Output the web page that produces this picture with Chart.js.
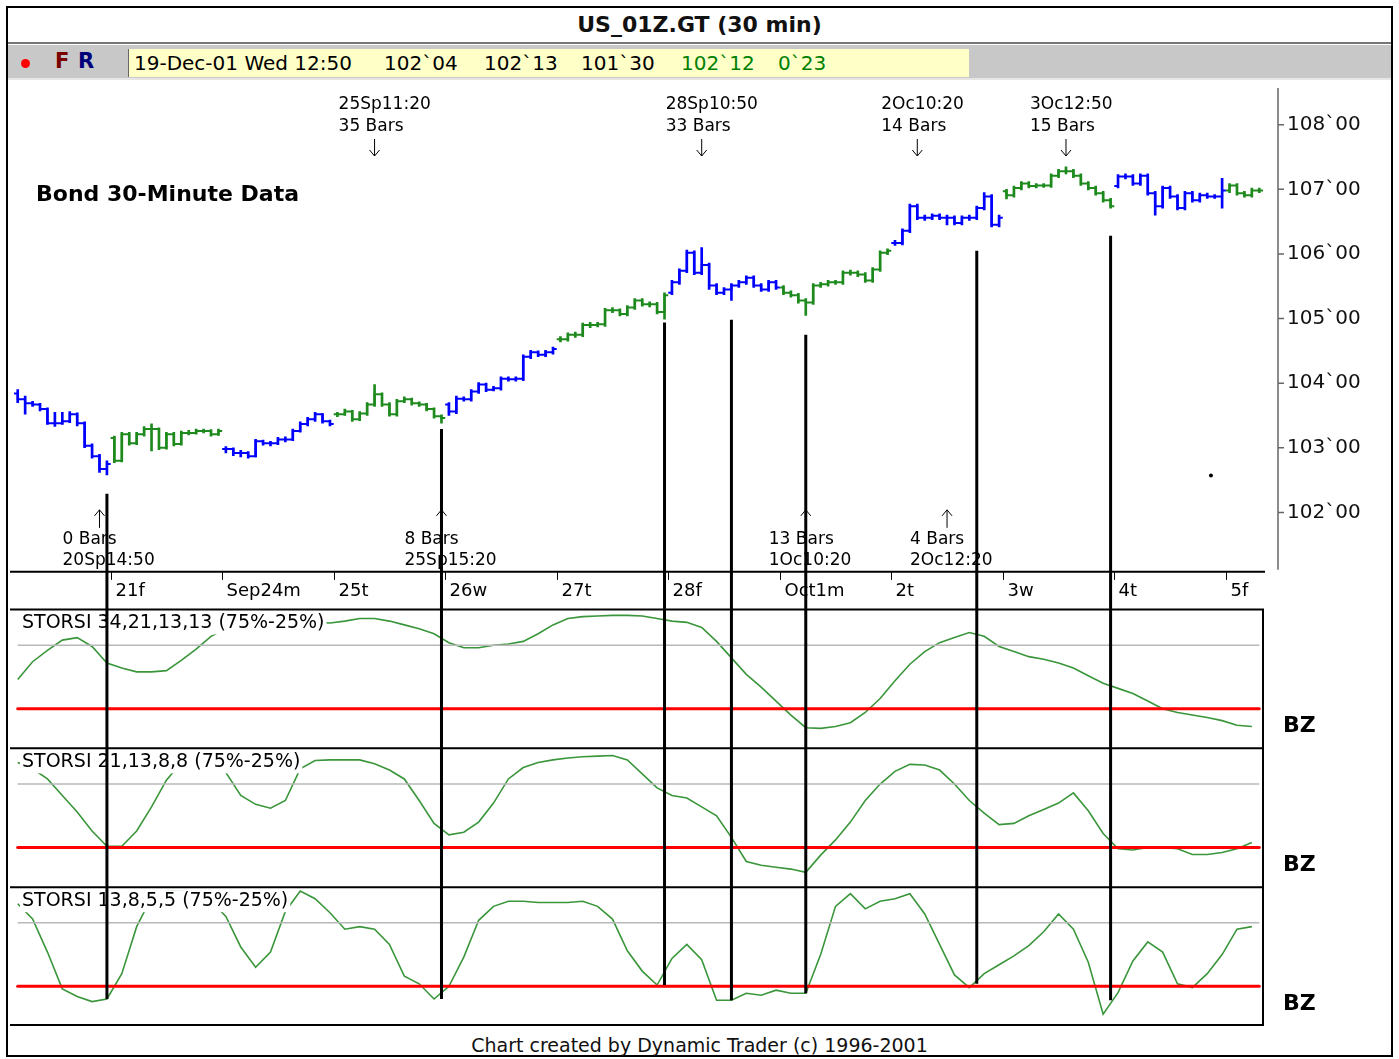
<!DOCTYPE html>
<html>
<head>
<meta charset="utf-8">
<title>US_01Z.GT (30 min)</title>
<script src="https://cdn.jsdelivr.net/npm/chart.js@4.4.1/dist/chart.umd.min.js"></script>
<style>
    body { margin: 0; background: #fff; font-family: "DejaVu Sans", sans-serif; }
    #frame { position: absolute; left: 6px; top: 6px; width: 1383px; height: 1047px; border: 2px solid #000; }
    #title { position: absolute; left: 8px; top: 8px; width: 1383px; height: 34px; line-height: 34px; text-align: center; font-weight: bold; font-size: 22px; color: #111; }
    #sep { position: absolute; left: 8px; top: 42px; width: 1383px; height: 2px; background: #777; }
    #bar { position: absolute; left: 8px; top: 45px; width: 1383px; height: 33px; background: #c8c8c8; border-bottom: 2px solid #e6e6e6; }
    #dot { position: absolute; left: 13px; top: 14px; width: 9px; height: 9px; border-radius: 50%; background: #f00; }
    .fr { position: absolute; top: 4px; font-weight: bold; font-size: 21px; }
    #quote { position: absolute; left: 120px; top: 4px; width: 840px; height: 28px; background: #ffffc8; border-left: 1px solid #666; font-size: 20px; line-height: 28px; }
    #quote span { position: absolute; top: 0; white-space: pre; }
    #chart { position: absolute; left: 10px; top: 80px; }
    #footer { position: absolute; left: 8px; top: 1033px; width: 1383px; height: 24px; line-height: 24px; text-align: center; font-size: 19px; color: #111; }
</style>
</head>
<body>
<div id="frame"></div>
<div id="title">US_01Z.GT (30 min)</div>
<div id="sep"></div>
<div id="bar">
    <div id="dot"></div>
    <span class="fr" style="left:47px;color:#7a0000">F</span>
    <span class="fr" style="left:70px;color:#00007a">R</span>
    <div id="quote">
        <span style="left:5px">19-Dec-01 Wed 12:50</span>
        <span style="left:255px">102`04</span>
        <span style="left:355px">102`13</span>
        <span style="left:452px">101`30</span>
        <span style="left:552px;color:#008000">102`12</span>
        <span style="left:649px;color:#008000">0`23</span>
    </div>
</div>
<canvas id="chart" width="1383" height="950"></canvas>
<div id="footer">Chart created by Dynamic Trader (c) 1996-2001</div>

<script>
// sesiones (30 min) y etiquetas del eje de fechas
const dayLabels = ['', '21f', 'Sep24m', '25t', '26w', '27t', '28f', 'Oct1m', '2t', '3w', '4t', '5f'];
const dayBarCounts = [13, 15, 15, 15, 15, 15, 15, 15, 15, 15, 15, 5];
const dayOpens = [103.84, 103.15, 102.98, 103.52, 103.67, 104.68, 105.40, 105.48, 106.17, 106.97, 107.05, 106.98];

const closes = [
    103.75, 103.69, 103.67, 103.60, 103.38, 103.38, 103.41, 103.52, 103.38, 103.03, 102.87, 102.67, 102.75,
    102.80, 103.21, 103.07, 103.21, 103.29, 103.29, 103.00, 103.21, 103.06, 103.23, 103.23, 103.26, 103.26, 103.21, 103.26,
    102.98, 102.92, 102.92, 102.87, 103.10, 103.07, 103.07, 103.13, 103.13, 103.26, 103.37, 103.44, 103.52, 103.41, 103.37,
    103.52, 103.56, 103.44, 103.53, 103.67, 103.83, 103.67, 103.52, 103.72, 103.75, 103.69, 103.67, 103.60, 103.49, 103.46,
    103.56, 103.76, 103.75, 103.87, 103.98, 103.90, 103.92, 104.07, 104.06, 104.07, 104.41, 104.48, 104.44, 104.48, 104.53,
    104.68, 104.75, 104.75, 104.90, 104.90, 104.91, 105.13, 105.13, 105.07, 105.17, 105.28, 105.22, 105.22, 105.10, 105.36,
    105.56, 105.74, 106.02, 105.71, 105.83, 105.51, 105.40, 105.45, 105.51, 105.56, 105.63, 105.51, 105.45, 105.56, 105.48,
    105.40, 105.36, 105.28, 105.25, 105.51, 105.53, 105.56, 105.56, 105.71, 105.71, 105.68, 105.59, 105.76, 106.02, 106.05,
    106.17, 106.36, 106.74, 106.56, 106.56, 106.59, 106.56, 106.56, 106.48, 106.56, 106.56, 106.71, 106.89, 106.45, 106.56,
    106.91, 107.02, 107.09, 107.05, 107.06, 107.06, 107.21, 107.28, 107.28, 107.21, 107.09, 107.02, 106.94, 106.83, 106.74,
    107.20, 107.20, 107.09, 107.21, 106.94, 106.74, 107.02, 106.89, 106.71, 106.94, 106.83, 106.91, 106.89, 106.89, 106.98,
    107.06, 106.94, 106.91, 106.98, 106.98
];
const highs = [
    103.90, 103.80, 103.72, 103.69, 103.62, 103.55, 103.55, 103.56, 103.54, 103.40, 103.06, 102.90, 102.80,
    103.18, 103.24, 103.24, 103.24, 103.33, 103.37, 103.31, 103.24, 103.24, 103.26, 103.27, 103.29, 103.29, 103.28, 103.29,
    103.02, 103.00, 102.96, 102.94, 103.13, 103.12, 103.10, 103.16, 103.17, 103.29, 103.40, 103.47, 103.55, 103.53, 103.43,
    103.55, 103.60, 103.58, 103.56, 103.70, 103.98, 103.85, 103.70, 103.75, 103.79, 103.77, 103.71, 103.69, 103.62, 103.51,
    103.70, 103.80, 103.79, 103.90, 104.01, 104.00, 103.95, 104.10, 104.10, 104.10, 104.44, 104.51, 104.50, 104.51, 104.56,
    104.72, 104.78, 104.79, 104.93, 104.94, 104.94, 105.16, 105.17, 105.15, 105.20, 105.31, 105.31, 105.26, 105.25, 105.40,
    105.59, 105.77, 106.06, 106.05, 106.10, 105.86, 105.54, 105.48, 105.54, 105.59, 105.66, 105.66, 105.54, 105.59, 105.59,
    105.51, 105.43, 105.39, 105.31, 105.54, 105.56, 105.59, 105.59, 105.74, 105.75, 105.74, 105.71, 105.79, 106.05, 106.08,
    106.21, 106.39, 106.77, 106.77, 106.60, 106.62, 106.62, 106.60, 106.59, 106.59, 106.60, 106.74, 106.95, 106.92, 106.60,
    107.00, 107.05, 107.12, 107.12, 107.09, 107.09, 107.24, 107.31, 107.35, 107.31, 107.24, 107.12, 107.05, 106.97, 106.86,
    107.23, 107.24, 107.23, 107.24, 107.24, 106.97, 107.05, 107.05, 106.92, 106.97, 106.97, 106.94, 106.94, 106.92, 107.17,
    107.09, 107.09, 106.97, 107.02, 107.02
];
const lows = [
    103.70, 103.52, 103.64, 103.57, 103.36, 103.33, 103.36, 103.39, 103.34, 103.00, 102.84, 102.62, 102.58,
    102.77, 102.78, 103.04, 103.05, 103.18, 102.95, 102.97, 102.98, 103.03, 103.04, 103.20, 103.21, 103.23, 103.18, 103.19,
    102.92, 102.88, 102.86, 102.84, 102.86, 103.04, 103.03, 103.05, 103.09, 103.11, 103.24, 103.34, 103.41, 103.38, 103.34,
    103.48, 103.50, 103.41, 103.42, 103.50, 103.64, 103.64, 103.49, 103.49, 103.70, 103.66, 103.64, 103.57, 103.46, 103.38,
    103.50, 103.53, 103.72, 103.72, 103.84, 103.87, 103.88, 103.89, 104.03, 104.03, 104.04, 104.38, 104.41, 104.41, 104.45,
    104.64, 104.65, 104.71, 104.72, 104.86, 104.87, 104.88, 105.09, 105.04, 105.04, 105.14, 105.19, 105.18, 105.07, 104.99,
    105.37, 105.53, 105.71, 105.68, 105.68, 105.45, 105.37, 105.37, 105.28, 105.48, 105.53, 105.48, 105.42, 105.42, 105.45,
    105.37, 105.33, 105.24, 105.05, 105.22, 105.48, 105.50, 105.53, 105.53, 105.67, 105.65, 105.56, 105.56, 105.73, 105.99,
    106.13, 106.14, 106.33, 106.53, 106.52, 106.53, 106.53, 106.45, 106.45, 106.45, 106.52, 106.53, 106.68, 106.42, 106.42,
    106.85, 106.88, 106.99, 107.02, 107.02, 107.03, 107.03, 107.18, 107.24, 107.18, 107.06, 106.99, 106.91, 106.80, 106.71,
    107.02, 107.16, 107.06, 107.06, 106.91, 106.60, 106.71, 106.86, 106.68, 106.68, 106.80, 106.80, 106.86, 106.86, 106.71,
    106.95, 106.91, 106.88, 106.88, 106.95
];
const priceTicks = [102, 103, 104, 105, 106, 107, 108];
const dotBars = [160.5];
const dotPrices = [102.57];

// osciladores STORSI, un valor cada 2 barras
const oscStep = 2;
const oscNames = ['STORSI 34,21,13,13 (75%-25%)', 'STORSI 21,13,8,8 (75%-25%)', 'STORSI 13,8,5,5 (75%-25%)'];
const osc1 = [
    48, 62, 71, 79, 81, 74, 61, 57, 54, 54, 55, 63, 72, 82,
    88, 92, 94, 95, 95, 94, 93, 92.5, 94, 96, 96, 94, 91, 88,
    84, 77, 73, 73, 75, 76, 78, 84, 91, 96, 97.5, 98, 98.5, 98.5,
    98, 96, 94, 93, 89, 78, 65, 52, 42, 31, 20, 10, 9.5, 11,
    14, 22, 33, 47, 60, 70, 77, 81, 85, 82, 74, 70, 66, 64,
    61, 57, 51, 45, 41, 37, 31, 25, 22, 20, 18, 15.6, 12, 11
];
const osc2 = [
    92, 87, 79, 66, 53, 38, 26, 26, 38, 57, 78, 92, 95, 92,
    84, 66, 59, 56, 62, 87, 93.5, 94, 94, 94, 91, 86, 79, 62,
    44, 35, 37, 45, 60, 79, 88, 92, 94, 95.5, 96.5, 97, 97.5, 94,
    83, 72, 66, 64, 57, 50, 33, 14, 11, 9.5, 8, 5.5, 19, 31,
    45, 62, 75, 85, 90.5, 90, 86, 75, 62, 52, 43, 44, 50, 55,
    60, 68, 54, 36, 24, 23, 25, 25, 24, 19.5, 19.5, 21, 24, 29
];
const osc3 = [
    90, 78, 52, 23, 17, 13, 15, 35, 72, 95, 100, 100, 98, 92,
    80, 56, 40, 52, 84, 100, 94, 83, 70, 72, 70, 58, 33, 27,
    15, 25, 48, 77, 88, 92, 92, 91, 91, 91, 92, 88, 78, 53,
    37, 26, 47, 58, 46, 14, 14, 19.5, 18, 22, 19.5, 19.5, 50, 88,
    98, 86, 92, 94, 98, 82, 58, 34, 24, 35, 42, 49, 57, 68,
    82, 70, 44, 3, 20, 45, 60, 52, 27, 24, 35, 50, 70, 72
];
const upperBand = 75;
const lowerBand = 25;

// lineas de ciclo: barra, precio de inicio, valor final en el oscilador inferior
const cycleBars = [12, 57, 87, 96, 106, 129, 147];
const cycleTops = [102.29, 103.29, 104.94, 104.98, 104.75, 106.05, 106.28];
const cycleBottoms = [15, 15, 26, 14, 19.5, 27, 14];

// anotaciones de maximos y minimos
const highNoteBars = [48, 92, 121, 141];
const highNoteTimes = ['25Sp11:20', '28Sp10:50', '2Oc10:20', '3Oc12:50'];
const highNoteCounts = ['35 Bars', '33 Bars', '14 Bars', '15 Bars'];
const lowNoteBars = [11, 57, 106, 125];
const lowNoteCounts = ['0 Bars', '8 Bars', '13 Bars', '4 Bars'];
const lowNoteTimes = ['20Sp14:50', '25Sp15:20', '1Oc10:20', '2Oc12:20'];

Chart.defaults.font.family = '"DejaVu Sans", sans-serif';
Chart.defaults.color = '#000';

const blue = '#0000ff';
const green = '#1e8a1e';
const oscGreen = '#3a963a';

const dayStarts = [];
const barDay = [];
let count = 0;
dayBarCounts.forEach(function(c, d) {
    dayStarts.push(count);
    for (let j = 0; j < c; j++) barDay.push(d);
    count += c;
});
const dayColor = d => (d % 2 === 0 ? blue : green);

const datasets = [];

// una linea escalonada por sesion (open -> closes -> tick de cierre)
dayBarCounts.forEach(function(c, d) {
    const s = dayStarts[d];
    const e = s + c - 1;
    const pts = [{ x: s - 0.5, y: dayOpens[d] }];
    for (let i = s; i <= e; i++) pts.push({ x: i, y: closes[i] });
    pts.push({ x: e + 0.5, y: closes[e] });
    datasets.push({
        type: 'line', yAxisID: 'yP', data: pts, stepped: 'before',
        borderColor: dayColor(d), borderWidth: 2, pointRadius: 0
    });
});

// rango maximo-minimo de cada barra
datasets.push({
    type: 'bar', yAxisID: 'yP',
    data: closes.map((c, i) => ({ x: i, y: [lows[i], highs[i]] })),
    backgroundColor: barDay.map(dayColor),
    barThickness: 2, grouped: false
});

datasets.push({
    type: 'line', yAxisID: 'yP',
    data: dotBars.map((b, i) => ({ x: b, y: dotPrices[i] })),
    showLine: false, pointRadius: 2, pointBackgroundColor: '#000', pointBorderWidth: 0
});

const oscSeries = [osc1, osc2, osc3];
const oscAxisIds = ['yO1', 'yO2', 'yO3'];
oscSeries.forEach(function(vals, k) {
    const id = oscAxisIds[k];
    datasets.push({
        type: 'line', yAxisID: id,
        data: [{ x: 0, y: upperBand }, { x: closes.length - 1, y: upperBand }],
        borderColor: '#b8b8b8', borderWidth: 1.5, pointRadius: 0
    });
    datasets.push({
        type: 'line', yAxisID: id,
        data: [{ x: 0, y: lowerBand }, { x: closes.length - 1, y: lowerBand }],
        borderColor: '#ff0000', borderWidth: 3, borderCapStyle: 'round', pointRadius: 0
    });
    datasets.push({
        type: 'line', yAxisID: id,
        data: vals.map((v, j) => ({ x: j * oscStep, y: v })),
        borderColor: oscGreen, borderWidth: 1.6, pointRadius: 0
    });
});

function noPadding(scale) {
    scale.paddingTop = 0;
    scale.paddingBottom = 0;
}

function panelAxis(weight, stackWeight, min, max) {
    return {
        type: 'linear', position: 'right', stack: 'panels', weight: weight, stackWeight: stackWeight,
        min: min, max: max, beginAtZero: false,
        ticks: { display: false },
        grid: { display: false, drawTicks: false },
        border: { display: false },
        afterFit: noPadding
    };
}

function drawArrow(ctx, x, yHead, yTail) {
    const dir = yTail > yHead ? 1 : -1;
    ctx.beginPath();
    ctx.moveTo(x, yTail);
    ctx.lineTo(x, yHead);
    ctx.moveTo(x - 5, yHead + dir * 6);
    ctx.lineTo(x, yHead);
    ctx.lineTo(x + 5, yHead + dir * 6);
    ctx.stroke();
}

const panelDecor = {
    id: 'panelDecor',
    afterDatasetsDraw(chart) {
        const { ctx, chartArea, scales } = chart;
        const xs = scales.x, yP = scales.yP, yD = scales.yD;
        const oscAxes = [scales.yO1, scales.yO2, scales.yO3];
        const left = chartArea.left, right = chartArea.right;
        ctx.save();

        // marcos de los paneles (desde el borde del lienzo)
        ctx.strokeStyle = '#000';
        ctx.lineWidth = 2;
        ctx.beginPath();
        ctx.moveTo(0, yP.bottom); ctx.lineTo(right + 2, yP.bottom);
        oscAxes.forEach(function(s) { ctx.moveTo(0, s.top); ctx.lineTo(right + 1, s.top); });
        ctx.moveTo(0, oscAxes[2].bottom - 1); ctx.lineTo(right + 1, oscAxes[2].bottom - 1);
        ctx.moveTo(right, yD.bottom); ctx.lineTo(right, oscAxes[2].bottom);
        ctx.stroke();

        // eje de precios
        const axisX = right + 15;
        ctx.strokeStyle = '#666';
        ctx.lineWidth = 1.5;
        ctx.beginPath();
        ctx.moveTo(axisX, yP.top + 4); ctx.lineTo(axisX, yP.bottom - 2);
        priceTicks.forEach(function(v) {
            const y = yP.getPixelForValue(v);
            ctx.moveTo(axisX, y); ctx.lineTo(axisX + 6, y);
        });
        ctx.stroke();

        // eje de fechas
        ctx.strokeStyle = '#000';
        ctx.lineWidth = 1;
        ctx.fillStyle = '#000';
        ctx.font = '18px "DejaVu Sans"';
        ctx.textBaseline = 'middle';
        ctx.textAlign = 'left';
        dayStarts.forEach(function(s, d) {
            if (!dayLabels[d]) return;
            const x = Math.round(xs.getPixelForValue(s - 0.5)) + 0.5;
            ctx.beginPath();
            ctx.moveTo(x, yD.top); ctx.lineTo(x, yD.top + 8);
            ctx.stroke();
            ctx.fillText(dayLabels[d], x + 4, yD.top + 19);
        });

        // titulo del grafico de precios
        ctx.font = 'bold 22px "DejaVu Sans"';
        ctx.fillText('Bond 30-Minute Data', left + 22, yP.top + 111);

        // anotaciones
        ctx.font = '17px "DejaVu Sans"';
        ctx.lineWidth = 1;
        highNoteBars.forEach(function(b, k) {
            const x = xs.getPixelForValue(b);
            ctx.fillText(highNoteTimes[k], x - 36, yP.top + 21);
            ctx.fillText(highNoteCounts[k], x - 36, yP.top + 43);
            drawArrow(ctx, x, yP.top + 72, yP.top + 55);
        });
        lowNoteBars.forEach(function(b, k) {
            const x = xs.getPixelForValue(b);
            ctx.fillText(lowNoteCounts[k], x - 37, yP.bottom - 32);
            ctx.fillText(lowNoteTimes[k], x - 37, yP.bottom - 11);
            drawArrow(ctx, x, yP.bottom - 62, yP.bottom - 44);
        });

        // rotulos de los osciladores
        ctx.font = '19px "DejaVu Sans"';
        oscAxes.forEach(function(s, k) {
            const w = ctx.measureText(oscNames[k]).width;
            ctx.fillStyle = '#fff';
            ctx.fillRect(left + 6, s.top + 3, w + 4, 22);
            ctx.fillStyle = '#000';
            ctx.fillText(oscNames[k], left + 8, s.top + 14);
        });
        ctx.font = 'bold 22px "DejaVu Sans"';
        oscAxes.forEach(function(s) {
            ctx.fillText('BZ', right + 20, s.getPixelForValue(lowerBand) + 18);
        });

        // lineas de ciclo
        ctx.strokeStyle = '#000';
        ctx.lineWidth = 3;
        cycleBars.forEach(function(b, k) {
            const x = xs.getPixelForValue(b);
            ctx.beginPath();
            ctx.moveTo(x, yP.getPixelForValue(cycleTops[k]));
            ctx.lineTo(x, oscAxes[2].getPixelForValue(cycleBottoms[k]));
            ctx.stroke();
        });
        ctx.restore();
    }
};

new Chart(document.getElementById('chart').getContext('2d'), {
    type: 'line',
    data: { datasets: datasets },
    options: {
        responsive: false,
        animation: false,
        events: [],
        layout: { padding: 0 },
        plugins: { legend: { display: false }, tooltip: { enabled: false } },
        scales: {
            x: {
                type: 'linear', min: -0.5, max: closes.length - 0.5, offset: false, display: false,
                grid: { offset: false }
            },
            yP: {
                type: 'linear', position: 'right', stack: 'panels', weight: 1, stackWeight: 492,
                min: 101.08, max: 108.63, beginAtZero: false,
                afterBuildTicks: function(scale) { scale.ticks = priceTicks.map(v => ({ value: v })); },
                ticks: { callback: v => v + '`00', font: { size: 20 }, color: '#111', padding: 24 },
                grid: { display: false, drawTicks: false },
                border: { display: false },
                afterFit: function(scale) { scale.width = 130; noPadding(scale); }
            },
            yD: panelAxis(2, 38, 0, 1),
            yO1: panelAxis(3, 140, -6.25, 103.1),
            yO2: panelAxis(4, 140, -6.25, 103.1),
            yO3: panelAxis(5, 140, -6.25, 103.1)
        }
    },
    plugins: [panelDecor]
});
</script>
</body>
</html>
